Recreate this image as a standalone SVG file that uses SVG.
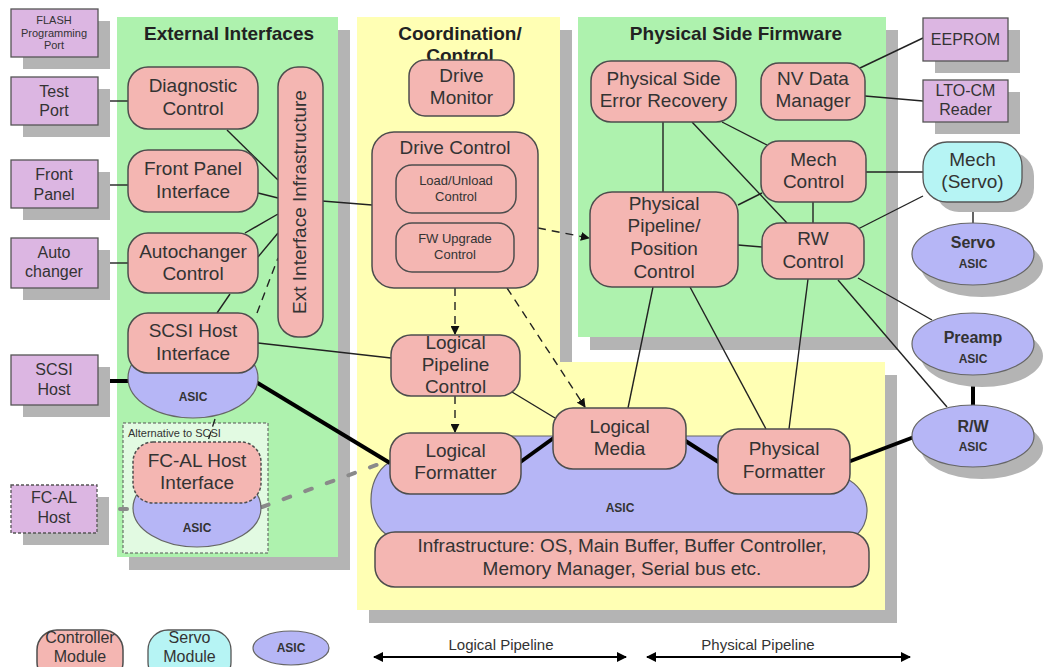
<svg xmlns="http://www.w3.org/2000/svg" width="1044" height="667" viewBox="0 0 1044 667">
  <style>
    .t { font-family: "Liberation Sans", Arial, sans-serif; fill: #333; text-anchor: middle; }
    .n { font-size: 19px; }
    .s { font-size: 16px; }
    .xs { font-size: 11px; }
    .b { font-weight: bold; }
    .ttl { font-size: 19px; font-weight: bold; fill: #222; }
    .ctl { fill: #f4b6b2; stroke: #4d4d4d; stroke-width: 1.5; }
    .ext { fill: #dcb6e2; stroke: #555; stroke-width: 1.3; }
    .srv { fill: #b6f4f4; stroke: #555; stroke-width: 1.3; }
    .asic { fill: #b6b6f6; stroke: #666; stroke-width: 1.2; }
    .sh { fill: #b4b4b4; }
    .ln { stroke: #222; stroke-width: 1.4; fill: none; }
    .thk { stroke: #000; stroke-width: 4; fill: none; }
    .dash { stroke-dasharray: 8 6; }
    .dot { stroke-dasharray: 3 2; }
  </style>
  <defs>
    <marker id="arr" viewBox="0 0 10 10" refX="9" refY="5" markerWidth="9" markerHeight="9" markerUnits="userSpaceOnUse" orient="auto">
      <path d="M0,0 L10,5 L0,10 z" fill="#111"/>
    </marker>
    <marker id="arr2" viewBox="0 0 10 10" refX="9" refY="5" markerWidth="10" markerHeight="10" markerUnits="userSpaceOnUse" orient="auto-start-reverse">
      <path d="M0,0 L10,5 L0,10 z" fill="#000"/>
    </marker>
  </defs>
  <rect width="1044" height="667" fill="#fff"/>

  <!-- panels -->
  <g id="panel-external">
    <rect class="sh" x="129" y="30" width="221" height="540"/>
    <rect x="117" y="17" width="221" height="540" fill="#aef2ae"/>
    <text class="t ttl" x="229" y="40">External Interfaces</text>
  </g>
  <g id="panel-coordination">
    <path class="sh" d="M369,30 H572 V375 H897 V623 H369 Z"/>
    <path d="M357,17 H560 V362 H885 V610 H357 Z" fill="#ffffb4"/>
    <text class="t ttl" x="460" y="40">Coordination/</text>
    <text class="t ttl" x="460" y="62">Control</text>
  </g>
  <g id="panel-physical">
    <rect class="sh" x="590" y="30" width="308" height="320"/>
    <rect x="578" y="17" width="308" height="320" fill="#aef2ae"/>
    <text class="t ttl" x="736" y="40">Physical Side Firmware</text>
  </g>
  <g id="alt-scsi">
    <rect x="123" y="423" width="145" height="130" fill="#e2fae2" stroke="#555" stroke-width="1" stroke-dasharray="3 2"/>
    <text class="t xs" x="128" y="437" style="text-anchor:start">Alternative to SCSI</text>
  </g>

  <!-- ASIC substrate under the pipeline formatters -->
  <g id="asic-main">
    <path class="asic" d="M390,462 C400,445 430,436 470,436 L790,436 C820,436 838,460 845,478 C872,490 874,525 852,538 L395,538 C366,532 362,478 390,462 Z"/>
    <text class="t b" x="620" y="512" style="font-size:12px">ASIC</text>
  </g>

  <!-- connectors -->
  <g id="connectors">
    <line class="ln" x1="98" y1="101" x2="128" y2="101"/>
    <line class="ln" x1="98" y1="185" x2="128" y2="185"/>
    <line class="ln" x1="98" y1="263" x2="128" y2="263"/>
    <line class="thk" x1="98" y1="381" x2="130" y2="381"/>
    <line class="ln" x1="227" y1="130" x2="278" y2="180"/>
    <line class="ln" x1="258" y1="193" x2="278" y2="198"/>
    <line class="ln" x1="245" y1="233" x2="278" y2="214"/>
    <line class="ln" x1="258" y1="257" x2="278" y2="233"/>
    <line class="ln dash" x1="257" y1="313" x2="278" y2="258"/>
    <line class="ln" x1="230" y1="294" x2="217" y2="313"/>
    <line class="ln dash" x1="215" y1="419" x2="208" y2="441" style="stroke-dasharray:8 5"/>
    <line class="ln" x1="322" y1="201" x2="372" y2="205"/>
    <line class="ln" x1="258" y1="343" x2="391" y2="358"/>
    <line class="thk" x1="256" y1="382" x2="390" y2="463"/>
    <path d="M97,509 L135,509 M262,507 L390,460" stroke="#8a8a8a" stroke-width="4" fill="none" stroke-dasharray="7 16" stroke-linecap="round"/>

    <line class="ln dash" x1="455" y1="288" x2="455" y2="334" marker-end="url(#arr)"/>
    <line class="ln dash" x1="455" y1="396" x2="455" y2="432" marker-end="url(#arr)"/>
    <line class="ln dash" x1="507" y1="288" x2="585" y2="407" marker-end="url(#arr)"/>
    <line class="ln dash" x1="538" y1="228" x2="589" y2="238" marker-end="url(#arr)"/>
    <line class="ln" x1="512" y1="392" x2="555" y2="418"/>
    <line class="thk" x1="519" y1="463" x2="555" y2="437"/>
    <line class="thk" x1="684" y1="440" x2="720" y2="463"/>
    <line class="thk" x1="848" y1="462" x2="914" y2="437"/>

    <line class="ln" x1="860" y1="68" x2="923" y2="38"/>
    <line class="ln" x1="865" y1="96" x2="923" y2="101"/>
    <line class="ln" x1="722" y1="122" x2="767" y2="145"/>
    <line class="ln" x1="692" y1="122" x2="787" y2="223"/>
    <line class="ln" x1="663" y1="122" x2="663" y2="192"/>
    <line class="ln" x1="738" y1="205" x2="762" y2="193"/>
    <line class="ln" x1="813" y1="202" x2="813" y2="223"/>
    <line class="ln" x1="738" y1="245" x2="762" y2="247"/>
    <line class="ln" x1="866" y1="172" x2="923" y2="172"/>
    <line class="ln" x1="858" y1="229" x2="923" y2="196"/>
    <line class="ln" x1="973" y1="202" x2="973" y2="223"/>
    <line class="ln" x1="858" y1="278" x2="932" y2="320"/>
    <line class="ln" x1="838" y1="280" x2="947" y2="407"/>
    <line class="thk" x1="973" y1="374" x2="973" y2="406"/>
    <line class="ln" x1="808" y1="279" x2="789" y2="429"/>
    <line class="ln" x1="653" y1="287" x2="628" y2="408"/>
    <line class="ln" x1="690" y1="287" x2="766" y2="429"/>
  </g>

  <!-- external devices -->
  <g id="flash-port">
    <rect class="sh" x="23" y="21" width="87" height="48"/>
    <rect class="ext" x="11" y="9" width="87" height="48"/>
    <text class="t xs" x="54" y="24">FLASH</text>
    <text class="t xs" x="54" y="36.5">Programming</text>
    <text class="t xs" x="54" y="49">Port</text>
  </g>
  <g id="test-port">
    <rect class="sh" x="23" y="89" width="87" height="48"/>
    <rect class="ext" x="11" y="77" width="87" height="48"/>
    <text class="t s" x="54" y="97">Test</text>
    <text class="t s" x="54" y="116">Port</text>
  </g>
  <g id="front-panel">
    <rect class="sh" x="23" y="172" width="87" height="48"/>
    <rect class="ext" x="11" y="160" width="87" height="48"/>
    <text class="t s" x="54" y="180">Front</text>
    <text class="t s" x="54" y="200">Panel</text>
  </g>
  <g id="auto-changer">
    <rect class="sh" x="23" y="250" width="87" height="50"/>
    <rect class="ext" x="11" y="238" width="87" height="50"/>
    <text class="t s" x="54" y="258">Auto</text>
    <text class="t s" x="54" y="277">changer</text>
  </g>
  <g id="scsi-host">
    <rect class="sh" x="23" y="367" width="87" height="50"/>
    <rect class="ext" x="11" y="355" width="87" height="50"/>
    <text class="t s" x="54" y="375">SCSI</text>
    <text class="t s" x="54" y="395">Host</text>
  </g>
  <g id="fcal-host">
    <rect class="sh" x="23" y="497" width="86" height="48"/>
    <rect class="ext dot" x="11" y="485" width="86" height="48"/>
    <text class="t s" x="54" y="503">FC-AL</text>
    <text class="t s" x="54" y="523">Host</text>
  </g>
  <g id="eeprom">
    <rect class="sh" x="935" y="30" width="85" height="43"/>
    <rect class="ext" x="923" y="18" width="85" height="43"/>
    <text class="t s" x="965.5" y="45">EEPROM</text>
  </g>
  <g id="lto-cm">
    <rect class="sh" x="935" y="92" width="85" height="42"/>
    <rect class="ext" x="923" y="80" width="85" height="42"/>
    <text class="t s" x="965.5" y="96">LTO-CM</text>
    <text class="t s" x="965.5" y="115">Reader</text>
  </g>

  <!-- external interface firmware -->
  <g id="diagnostic-control">
    <rect class="ctl" x="128" y="67" width="130" height="62" rx="20"/>
    <text class="t n" x="193" y="92">Diagnostic</text>
    <text class="t n" x="193" y="115">Control</text>
  </g>
  <g id="front-panel-interface">
    <rect class="ctl" x="128" y="150" width="130" height="62" rx="20"/>
    <text class="t n" x="193" y="175">Front Panel</text>
    <text class="t n" x="193" y="198">Interface</text>
  </g>
  <g id="autochanger-control">
    <rect class="ctl" x="128" y="233" width="130" height="60" rx="20"/>
    <text class="t n" x="193" y="258">Autochanger</text>
    <text class="t n" x="193" y="280">Control</text>
  </g>
  <g id="scsi-host-interface">
    <ellipse class="asic" cx="193" cy="378" rx="65" ry="40"/>
    <rect class="ctl" x="128" y="313" width="130" height="60" rx="20"/>
    <text class="t n" x="193" y="337">SCSI Host</text>
    <text class="t n" x="193" y="360">Interface</text>
    <text class="t b" x="193" y="401" style="font-size:12px">ASIC</text>
  </g>
  <g id="fcal-host-interface">
    <ellipse class="asic" cx="197" cy="508" rx="64" ry="39"/>
    <rect class="ctl dot" x="133" y="442" width="128" height="61" rx="20"/>
    <text class="t n" x="197" y="467">FC-AL Host</text>
    <text class="t n" x="197" y="489">Interface</text>
    <text class="t b" x="197" y="532" style="font-size:12px">ASIC</text>
  </g>
  <g id="ext-interface-infrastructure">
    <rect class="ctl" x="278" y="67" width="45" height="270" rx="20"/>
    <text class="t n" transform="translate(306,202) rotate(-90)">Ext Interface Infrastructure</text>
  </g>

  <!-- coordination / control -->
  <g id="drive-monitor">
    <rect class="ctl" x="409" y="60" width="105" height="56" rx="16"/>
    <text class="t n" x="461.5" y="82">Drive</text>
    <text class="t n" x="461.5" y="104">Monitor</text>
  </g>
  <g id="drive-control">
    <rect class="ctl" x="372" y="132" width="166" height="156" rx="22"/>
    <text class="t n" x="455" y="154">Drive Control</text>
    <rect class="ctl" x="396" y="165" width="120" height="48" rx="16"/>
    <text class="t" x="456" y="185" style="font-size:13px">Load/Unload</text>
    <text class="t" x="456" y="201" style="font-size:13px">Control</text>
    <rect class="ctl" x="396" y="223" width="118" height="49" rx="16"/>
    <text class="t" x="455" y="243" style="font-size:13px">FW Upgrade</text>
    <text class="t" x="455" y="259" style="font-size:13px">Control</text>
  </g>
  <g id="logical-pipeline-control">
    <rect class="ctl" x="391" y="335" width="129" height="61" rx="20"/>
    <text class="t n" x="455.5" y="349">Logical</text>
    <text class="t n" x="455.5" y="371">Pipeline</text>
    <text class="t n" x="455.5" y="393">Control</text>
  </g>
  <g id="logical-formatter">
    <rect class="ctl" x="390" y="433" width="131" height="61" rx="20"/>
    <text class="t n" x="455.5" y="457">Logical</text>
    <text class="t n" x="455.5" y="479">Formatter</text>
  </g>
  <g id="logical-media">
    <rect class="ctl" x="553" y="408" width="133" height="61" rx="20"/>
    <text class="t n" x="619.5" y="433">Logical</text>
    <text class="t n" x="619.5" y="455">Media</text>
  </g>
  <g id="physical-formatter">
    <rect class="ctl" x="718" y="429" width="132" height="65" rx="20"/>
    <text class="t n" x="784" y="455">Physical</text>
    <text class="t n" x="784" y="478">Formatter</text>
  </g>
  <g id="infrastructure">
    <rect class="ctl" x="375" y="532" width="494" height="55" rx="20"/>
    <text class="t n" x="622" y="552">Infrastructure: OS, Main Buffer, Buffer Controller,</text>
    <text class="t n" x="622" y="575">Memory Manager, Serial bus etc.</text>
  </g>

  <!-- physical side firmware -->
  <g id="physical-error-recovery">
    <rect class="ctl" x="591" y="61" width="145" height="61" rx="20"/>
    <text class="t n" x="663.5" y="85">Physical Side</text>
    <text class="t n" x="663.5" y="107">Error Recovery</text>
  </g>
  <g id="nv-data-manager">
    <rect class="ctl" x="761" y="63" width="104" height="57" rx="18"/>
    <text class="t n" x="813" y="85">NV Data</text>
    <text class="t n" x="813" y="107">Manager</text>
  </g>
  <g id="mech-control">
    <rect class="ctl" x="761" y="141" width="105" height="61" rx="18"/>
    <text class="t n" x="813.5" y="166">Mech</text>
    <text class="t n" x="813.5" y="188">Control</text>
  </g>
  <g id="physical-pipeline-control">
    <rect class="ctl" x="590" y="192" width="148" height="95" rx="22"/>
    <text class="t n" x="664" y="210">Physical</text>
    <text class="t n" x="664" y="232">Pipeline/</text>
    <text class="t n" x="664" y="255">Position</text>
    <text class="t n" x="664" y="278">Control</text>
  </g>
  <g id="rw-control">
    <rect class="ctl" x="762" y="223" width="102" height="56" rx="18"/>
    <text class="t n" x="813" y="245">RW</text>
    <text class="t n" x="813" y="268">Control</text>
  </g>

  <!-- servo side -->
  <g id="mech-servo">
    <rect class="sh" x="935" y="152" width="99" height="60" rx="24"/>
    <rect class="srv" x="923" y="142" width="99" height="60" rx="24"/>
    <text class="t n" x="972.5" y="166">Mech</text>
    <text class="t n" x="972.5" y="188">(Servo)</text>
  </g>
  <g id="servo-asic">
    <ellipse class="sh" cx="982" cy="266" rx="61" ry="31"/>
    <ellipse class="asic" cx="973" cy="254" rx="61" ry="31"/>
    <text class="t b" x="973" y="248" style="font-size:16px">Servo</text>
    <text class="t b" x="973" y="268" style="font-size:12px">ASIC</text>
  </g>
  <g id="preamp-asic">
    <ellipse class="sh" cx="982" cy="356" rx="61" ry="31"/>
    <ellipse class="asic" cx="973" cy="344" rx="61" ry="31"/>
    <text class="t b" x="973" y="343" style="font-size:16px">Preamp</text>
    <text class="t b" x="973" y="363" style="font-size:12px">ASIC</text>
  </g>
  <g id="rw-asic">
    <ellipse class="sh" cx="982" cy="448" rx="61" ry="31"/>
    <ellipse class="asic" cx="973" cy="436" rx="61" ry="31"/>
    <text class="t b" x="973" y="432" style="font-size:16px">R/W</text>
    <text class="t b" x="973" y="451" style="font-size:12px">ASIC</text>
  </g>

  <!-- legend -->
  <g id="legend">
    <rect class="ctl" x="37" y="630" width="86" height="52" rx="20"/>
    <text class="t" x="80" y="643" style="font-size:16px">Controller</text>
    <text class="t" x="80" y="662" style="font-size:16px">Module</text>
    <rect class="srv" x="148" y="630" width="83" height="52" rx="20"/>
    <text class="t" x="189.5" y="643" style="font-size:16px">Servo</text>
    <text class="t" x="189.5" y="662" style="font-size:16px">Module</text>
    <ellipse class="asic" cx="291" cy="648" rx="38" ry="17"/>
    <text class="t b" x="291" y="652" style="font-size:12px">ASIC</text>
  </g>

  <!-- pipeline extents -->
  <g id="pipeline-scale">
    <line x1="374" y1="657" x2="626" y2="657" stroke="#000" stroke-width="2" marker-start="url(#arr2)" marker-end="url(#arr2)"/>
    <text class="t" x="501" y="650" style="font-size:15px">Logical Pipeline</text>
    <line x1="647" y1="657" x2="910" y2="657" stroke="#000" stroke-width="2" marker-start="url(#arr2)" marker-end="url(#arr2)"/>
    <text class="t" x="758" y="650" style="font-size:15px">Physical Pipeline</text>
  </g>
</svg>
